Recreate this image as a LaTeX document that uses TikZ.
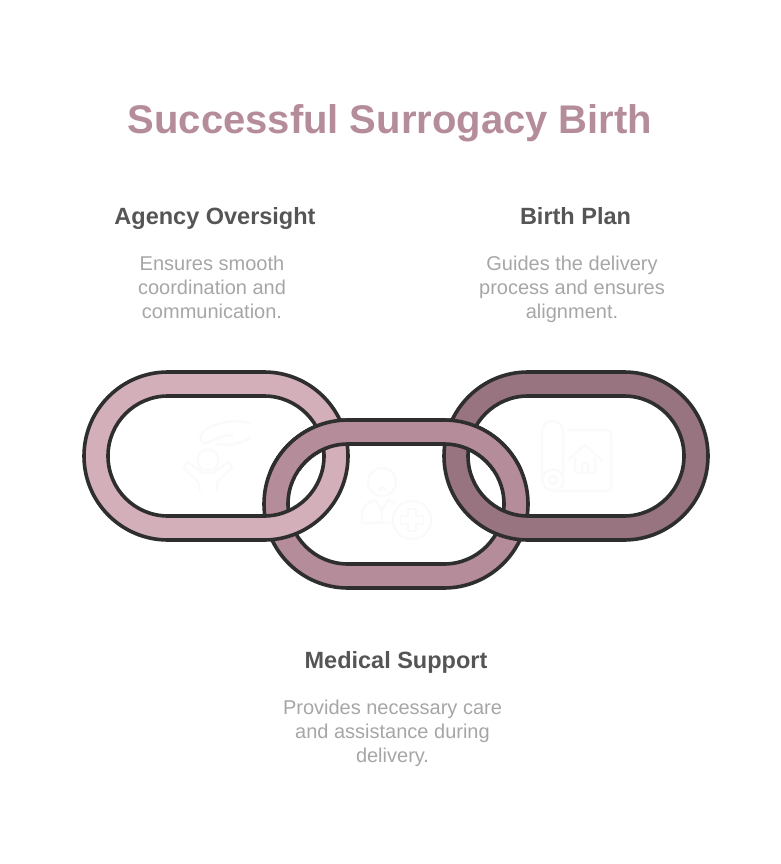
\documentclass[tikz,border=0pt]{standalone}
\usepackage{xcolor}
\usepackage{fontspec}
\setmainfont{Liberation Sans}
\definecolor{linkink}{HTML}{2E2E2E}
\definecolor{linklight}{HTML}{D2AFB9}
\definecolor{linkmid}{HTML}{B58C99}
\definecolor{linkdark}{HTML}{977480}
\definecolor{headtext}{HTML}{555555}
\definecolor{bodytext}{HTML}{A6A6A6}
\definecolor{iconline}{HTML}{FAFAFA}
\tikzset{
    linkring/.style={draw=linkink, line width=3.6pt, even odd rule},
    icon/.style={draw=iconline, line width=2.4pt, line cap=round, line join=round},
    headline/.style={text=linkmid, font=\fontsize{40}{44}\selectfont\bfseries, anchor=base},
    linkhead/.style={text=headtext, font=\fontsize{23.5}{26}\selectfont\bfseries, anchor=base},
    linkbody/.style={text=bodytext, font=\fontsize{20}{24}\selectfont, align=center, anchor=north}
}
% one chain link: centre x, centre y, fill
\newcommand{\chainlink}[3]{
    \path[linkring, fill=#3]
        [rounded corners=84pt] (#1-132,#2-84) rectangle (#1+132,#2+84)
        [rounded corners=60pt] (#1-108,#2-60) rectangle (#1+108,#2+60);
}
\begin{document}
\begin{tikzpicture}[x=1pt,y=-1pt]
    \useasboundingbox (0,0) rectangle (780,864);

    % Faint icons inside the links
    \draw[icon] (250,423) .. controls (235,419) and (220,422) .. (208,428) .. controls (200,433) and (198,440) .. (203,443) .. controls (209,445) and (214,436) .. (233,435);
    \draw[icon] (250,438) .. controls (240,444) and (228,446) .. (217,444);
    \draw[icon] (208,460) circle (10.5);
    \draw[icon] (200,490) -- (198,482) -- (183,467) -- (188,462) -- (203,473) -- (213,473) -- (228,462) -- (233,467) -- (217,482) -- (217,490);

    \draw[icon] (382,482) circle (14);
    \draw[icon] (379,490) .. controls (381,487) and (384,487) .. (386,490);
    \draw[icon] (390,523) -- (362,523) -- (362,513) .. controls (362,506) and (368,503) .. (375,500) -- (382,510) -- (388,500) -- (395,503);
    \draw[icon] (382,510) -- (382,523);
    \draw[icon] (412,520) circle (19);
    \draw[icon] (408,509) -- (416,509) -- (416,516) -- (423,516) -- (423,524) -- (416,524) -- (416,531) -- (408,531) -- (408,524) -- (401,524) -- (401,516) -- (408,516) -- cycle;

    \draw[icon, rounded corners=10pt] (542,480) -- (542,421) -- (563,421) -- (563,480);
    \draw[icon] (553,480) circle (10.5);
    \draw[icon] (553,480) circle (4);
    \draw[icon, rounded corners=4pt] (568,430) -- (611,430) -- (611,491) -- (553,491);
    \draw[icon] (568,460) -- (585,445) -- (602,460);
    \draw[icon, rounded corners=2pt] (575,458) -- (575,473) -- (595,473) -- (595,458);
    \draw[icon] (582,472) -- (582,466) .. controls (582,462) and (588,462) .. (588,466) -- (588,472);

    % Links, back to front
    \chainlink{396}{504}{linkmid}
    \chainlink{216}{456}{linklight}
    \chainlink{576}{456}{linkdark}
    % Middle link passes over at the top crossings
    \begin{scope}
        \clip (0,0) rectangle (780,470);
        \chainlink{396}{504}{linkmid}
    \end{scope}

    \node[headline] (title) at (390,134) {Successful Surrogacy Birth};

    \node[linkhead] (agencyhead) at (215,224) {Agency Oversight};
    \node[linkbody] (agencytext) at (212,252) {Ensures smooth\\coordination and\\communication.};

    \node[linkhead] (planhead) at (575.5,224) {Birth Plan};
    \node[linkbody] (plantext) at (572,252) {Guides the delivery\\process and ensures\\alignment.};

    \node[linkhead] (medicalhead) at (396,668) {Medical Support};
    \node[linkbody] (medicaltext) at (392.5,696) {Provides necessary care\\and assistance during\\delivery.};
\end{tikzpicture}
\end{document}
